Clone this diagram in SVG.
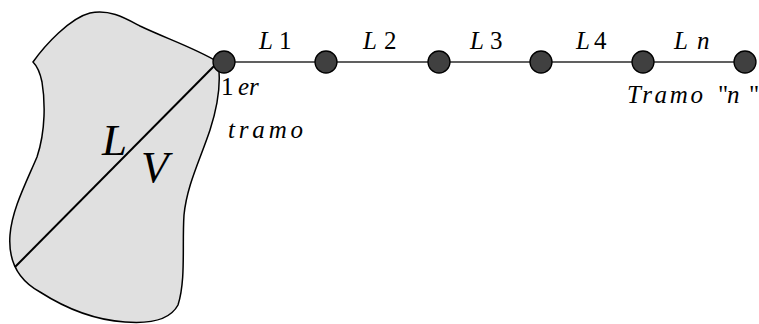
<svg xmlns="http://www.w3.org/2000/svg" width="759" height="324" viewBox="0 0 759 324">
<style>
.t{font-family:"Liberation Serif","Times New Roman",serif;fill:#000}
.i{font-style:italic}
.lab{font-size:25px}
.nd{fill:#404040;stroke:#000;stroke-width:1.3}
</style>
<rect width="759" height="324" fill="#fff"/>
<g id="region">
<path d="M33,62 C45,45 70,18 90,13 C110,9 125,18 140,26 C165,38 195,48 218,62 C221,80 218,105 210,130 C200,160 187,185 184,215 C182,245 186,280 178,305 C170,320 150,324 125,322 C95,320 65,308 40,292 C18,280 8,262 10,235 C12,210 25,185 37,157 C46,130 45,100 42,82 C40,72 37,66 33,62 Z" fill="#e0e0e0" stroke="#000" stroke-width="1.5"/>
<line x1="220" y1="60" x2="15" y2="267" stroke="#000" stroke-width="2"/>
<text class="t i" x="102" y="155" font-size="45">L</text>
<text class="t i" x="141" y="182" font-size="45">V</text>
</g>
<g id="connectors">
<line x1="224" y1="62" x2="745" y2="62" stroke="#606060" stroke-width="1.8"/>
</g>
<g id="n1"><circle class="nd" cx="224" cy="62" r="11"/></g>
<g id="n2"><circle class="nd" cx="326" cy="62" r="11"/></g>
<g id="n3"><circle class="nd" cx="439" cy="62" r="11"/></g>
<g id="n4"><circle class="nd" cx="541" cy="62" r="11"/></g>
<g id="n5"><circle class="nd" cx="643" cy="62" r="11"/></g>
<g id="n6"><circle class="nd" cx="745" cy="62" r="11"/></g>
<g id="labels">
<text class="t lab" y="49"><tspan class="i" x="259">L</tspan><tspan x="279">1</tspan></text>
<text class="t lab" y="49"><tspan class="i" x="363">L</tspan><tspan x="384">2</tspan></text>
<text class="t lab" y="49"><tspan class="i" x="470">L</tspan><tspan x="490">3</tspan></text>
<text class="t lab" y="49"><tspan class="i" x="576">L</tspan><tspan x="594">4</tspan></text>
<text class="t lab" y="49"><tspan class="i" x="674">L</tspan><tspan class="i" x="697">n</tspan></text>
<text class="t" font-size="25" y="95"><tspan x="221">1</tspan><tspan class="i" x="238">er</tspan></text>
<text class="t i" font-size="25" x="228" y="138" textLength="75" lengthAdjust="spacing">tramo</text>
<text class="t" font-size="25" y="103"><tspan class="i" x="627" textLength="76" lengthAdjust="spacing">Tramo</tspan><tspan x="718">"</tspan><tspan class="i" x="727">n</tspan><tspan x="749">"</tspan></text>
</g>
</svg>
